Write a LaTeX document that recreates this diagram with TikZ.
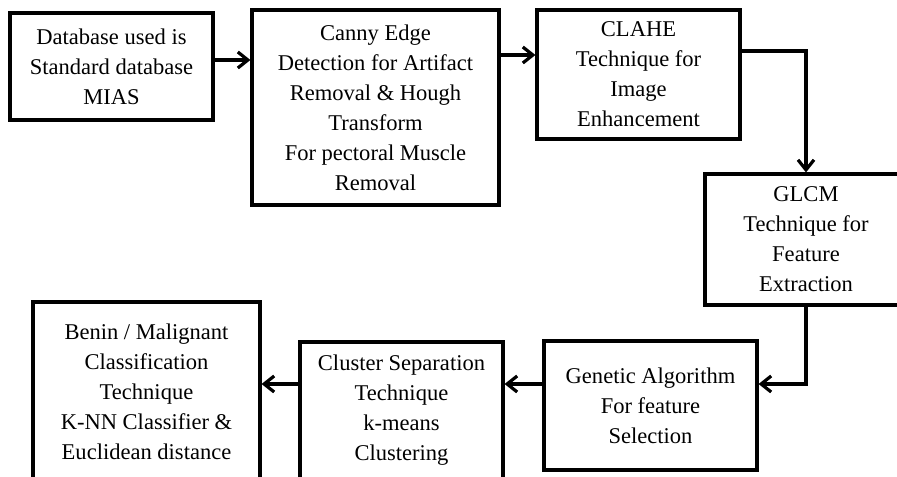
\documentclass[tikz,border=0pt]{standalone}
\usepackage{fontspec}
\setmainfont{Liberation Serif}
\usetikzlibrary{arrows.meta}

\begin{document}
\begin{tikzpicture}[x=0.75pt, y=-0.75pt,
    stage/.style={draw=black, line width=2.4pt, align=center, inner sep=0pt,
        font=\fontsize{16.9}{22.5}\selectfont},
    arr/.style={line width=2.4pt, -{Straight Barb[length=7.5pt, width=12pt, line width=2.4pt]}}]
        \useasboundingbox (0,0) rectangle (897,477);
        \clip (0,0) rectangle (897,477);

        \node[stage, minimum width=152.25pt, minimum height=80.25pt] (db) at (111.5,66.5)
            {Database used is\\Standard database\\MIAS};
        \node[stage, minimum width=185.25pt, minimum height=146.25pt] (canny) at (375.5,107.5)
            {Canny Edge\\Detection for Artifact\\Removal \& Hough\\Transform\\For pectoral Muscle\\Removal};
        \node[stage, minimum width=152.25pt, minimum height=96.75pt] (clahe) at (638.5,74.5)
            {CLAHE\\Technique for\\Image\\Enhancement};
        \node[stage, minimum width=151.5pt, minimum height=98.25pt] (glcm) at (806,239.5)
            {GLCM\\Technique for\\Feature\\Extraction};
        \node[stage, minimum width=159.75pt, minimum height=96.75pt] (ga) at (650.5,405.5)
            {Genetic Algorithm\\For feature\\Selection};
        \node[stage, minimum width=152.25pt, minimum height=102.75pt] (kmeans) at (401.5,410.5)
            {Cluster Separation\\Technique\\k-means\\Clustering};
        \node[stage, minimum width=170.25pt, minimum height=135pt] (knn) at (146.5,392)
            {Benin / Malignant\\Classification\\Technique\\K-NN Classifier \&\\Euclidean distance};

        \coordinate (row1) at (0,60);
        \coordinate (row2) at (0,55);
        \coordinate (row3) at (0,51);
        \coordinate (row4) at (0,384);

        \draw[arr] (db.east |- row1) -- (canny.west |- row1);
        \draw[arr] (canny.east |- row2) -- (clahe.west |- row2);
        \draw[arr] (clahe.east |- row3) -| (glcm.north);
        \draw[arr] (glcm.south) |- (ga.east |- row4);
        \draw[arr] (ga.west |- row4) -- (kmeans.east |- row4);
        \draw[arr] (kmeans.west |- row4) -- (knn.east |- row4);
\end{tikzpicture}
\end{document}
